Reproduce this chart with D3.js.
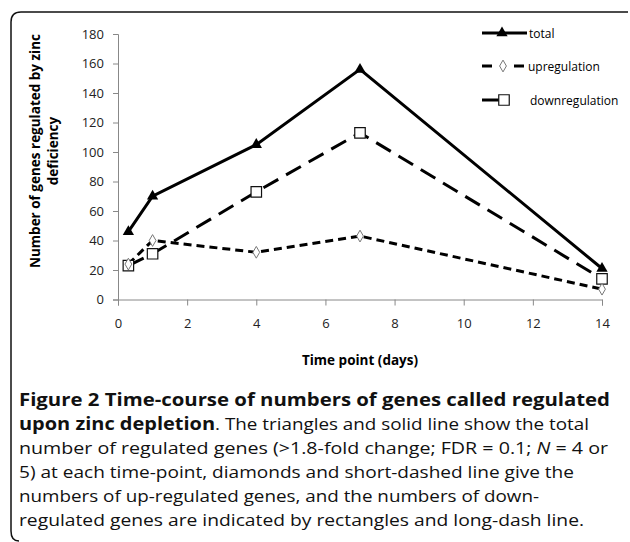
<!DOCTYPE html>
<meta charset="utf-8">
<style>
body { margin: 0; background: #fff; }
svg { display: block; font-family: "Open Sans", sans-serif; }
.axis path, .axis line { stroke: #888; }
.axis text { font-size: 13px; fill: #222; font-family: "Open Sans", sans-serif; }
.cap { font-size: 16.5px; fill: #111; }
</style>
<svg width="630" height="542" id="chart"></svg>
<script src="https://cdn.jsdelivr.net/npm/d3@7"></script>
<script>

var days = [0.3, 1, 4, 7, 14];
var total = [46, 70, 105, 156, 21];
var upreg = [24, 40, 32, 43, 7];
var downreg = [23, 31, 73, 113, 14];
var xTicks = [0, 2, 4, 6, 8, 10, 12, 14];
var yTicks = [0, 20, 40, 60, 80, 100, 120, 140, 160, 180];

var svg = d3.select("svg#chart"),
    margin = {top: 34, left: 118},
    width = 484,
    height = 265.5,
    g = svg.append("g").attr("transform", "translate(" + margin.left + "," + margin.top + ")");

// frame round the figure
svg.append("path")
    .attr("d", "M628,12 L21,12 Q11,12 11,22 L11,531 Q11,541 19,541")
    .attr("fill", "none")
    .attr("stroke", "#111")
    .attr("stroke-width", 1.5);

var x = d3.scaleLinear().domain([0, 14]).range([0, width]),
    y = d3.scaleLinear().domain([0, 180]).range([height, 0]);

g.append("g")
    .attr("class", "axis")
    .attr("transform", "translate(0," + height + ")")
    .call(d3.axisBottom(x).tickValues(xTicks).tickSize(6).tickPadding(13).tickFormat(d3.format("d")))
    .call(function(a) { a.select(".domain").attr("stroke", "#555"); });

g.append("g")
    .attr("class", "axis")
    .call(d3.axisLeft(y).tickValues(yTicks).tickSize(5).tickPadding(9).tickFormat(d3.format("d")));

svg.append("text")
    .attr("transform", "translate(40,151) rotate(-90)")
    .attr("text-anchor", "middle")
    .style("font-size", "13.5px").style("font-weight", "bold")
    .text("Number of genes regulated by zinc");
svg.append("text")
    .attr("transform", "translate(58,151) rotate(-90)")
    .attr("text-anchor", "middle")
    .style("font-size", "13.5px").style("font-weight", "bold")
    .text("deficiency");

svg.append("text")
    .attr("x", margin.left + width / 2).attr("y", 365)
    .attr("text-anchor", "middle")
    .style("font-size", "13.5px").style("font-weight", "bold")
    .text("Time point (days)");

var series = [
  {name: "total", values: total, dash: null, marker: "tri"},
  {name: "downregulation", values: downreg, dash: "17,9", marker: "sq"},
  {name: "upregulation", values: upreg, dash: "8,5", marker: "dia"}
];

var line = d3.line()
    .x(function(d, i) { return x(days[i]); })
    .y(function(d) { return y(d); });

var triangle = d3.symbol().type(d3.symbolTriangle).size(55),
    diamond = d3.symbol().type(d3.symbolDiamond).size(40),
    square = d3.symbol().type(d3.symbolSquare).size(110);

function marker(sel, kind) {
  if (kind == "tri") sel.attr("d", triangle()).attr("fill", "#000");
  else if (kind == "sq") sel.attr("d", square()).attr("fill", "#fff").attr("stroke", "#111").attr("stroke-width", 1.2);
  else sel.attr("d", diamond()).attr("fill", "#fff").attr("stroke", "#777").attr("stroke-width", 1);
}

series.forEach(function(s) {
  g.append("path")
      .attr("d", line(s.values))
      .attr("fill", "none")
      .attr("stroke", "#000")
      .attr("stroke-width", 3)
      .attr("stroke-dasharray", s.dash);
});
series.forEach(function(s) {
  g.selectAll(null)
    .data(s.values)
    .enter().append("path")
      .attr("transform", function(d, i) { return "translate(" + x(days[i]) + "," + y(d) + ")"; })
      .call(marker, s.marker);
});

// legend
var legend = [
  {name: "total", y: 33, dash: null, marker: "tri", x2: 527, mx: 502, tx: 529},
  {name: "upregulation", y: 66, dash: "10,6", marker: "dia", x2: 527, mx: 503, tx: 528},
  {name: "downregulation", y: 100, dash: null, marker: "sq", x2: 508, mx: 504, tx: 530}
];
legend.forEach(function(l) {
  svg.append("line")
      .attr("x1", 482).attr("x2", l.x2)
      .attr("y1", l.y).attr("y2", l.y)
      .attr("stroke", "#000").attr("stroke-width", 3)
      .attr("stroke-dasharray", l.dash);
  if (l.marker == "dia") {
    svg.append("rect").attr("x", l.mx - 7).attr("y", l.y - 6).attr("width", 14).attr("height", 12).attr("fill", "#fff");
  }
  svg.append("path")
      .attr("transform", "translate(" + l.mx + "," + l.y + ")")
      .call(marker, l.marker);
  svg.append("text")
      .attr("x", l.tx).attr("y", l.y + 4.5)
      .style("font-size", "12px")
      .text(l.name);
});

// caption
var capLines = [
  [["Figure 2 Time-course of numbers of genes called regulated", "bold"]],
  [["upon zinc depletion", "bold"], [". The triangles and solid line show the total", "normal"]],
  [["number of regulated genes (>1.8-fold change; FDR = 0.1; ", "normal"], ["N", "italic"], [" = 4 or", "normal"]],
  [["5) at each time-point, diamonds and short-dashed line give the", "normal"]],
  [["numbers of up-regulated genes, and the numbers of down-", "normal"]],
  [["regulated genes are indicated by rectangles and long-dash line.", "normal"]]
];
var capWidths = [591, 570, 589, 555, 520, 565];

capLines.forEach(function(parts, i) {
  var t = svg.append("text")
      .attr("class", "cap")
      .attr("x", 19)
      .attr("y", 406 + i * 24)
      .attr("textLength", capWidths[i])
      .attr("lengthAdjust", "spacingAndGlyphs");
  parts.forEach(function(p) {
    var ts = t.append("tspan").text(p[0]);
    if (p[1] == "bold") ts.style("font-weight", "bold").style("font-size", "17.5px");
    if (p[1] == "italic") ts.style("font-style", "italic");
  });
});

</script>
